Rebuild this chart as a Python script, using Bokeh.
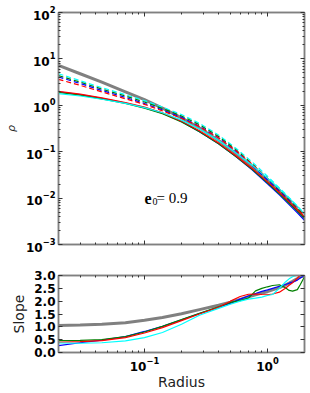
import numpy as np
from bokeh.plotting import figure
from bokeh.models import LogAxis, LinearAxis, FixedTicker, Label, Range1d, NumeralTickFormatter
from bokeh.layouts import column
from bokeh.embed import file_html
from bokeh.resources import INLINE

# ---------------- data ----------------
r_rho = [0.02, 0.03, 0.045, 0.07, 0.1, 0.14, 0.2, 0.28, 0.4, 0.55, 0.75, 1.0, 1.25, 1.5, 1.75, 2.0]

logrho_grey = [0.86, 0.68, 0.50, 0.29, 0.12, -0.06, -0.27, -0.49, -0.76, -1.03, -1.32, -1.62, -1.86, -2.07, -2.26, -2.44]

logrho_blue = [0.29, 0.23, 0.15, 0.05, -0.05, -0.17, -0.35, -0.57, -0.83, -1.10, -1.39, -1.69, -1.93, -2.14, -2.32, -2.48]
logrho_red = [0.30, 0.24, 0.16, 0.06, -0.04, -0.16, -0.34, -0.55, -0.81, -1.08, -1.36, -1.65, -1.88, -2.08, -2.25, -2.40]
logrho_green = [0.28, 0.22, 0.14, 0.04, -0.06, -0.18, -0.36, -0.57, -0.83, -1.10, -1.38, -1.67, -1.91, -2.11, -2.28, -2.43]
logrho_cyan = [0.25, 0.20, 0.13, 0.04, -0.05, -0.16, -0.32, -0.51, -0.76, -1.02, -1.29, -1.57, -1.80, -2.00, -2.18, -2.34]

logrho_cyan_d = [0.68, 0.53, 0.38, 0.23, 0.10, -0.04, -0.20, -0.39, -0.64, -0.92, -1.22, -1.53, -1.78, -1.99, -2.17, -2.34]
logrho_green_d = [0.64, 0.50, 0.35, 0.20, 0.07, -0.07, -0.23, -0.42, -0.67, -0.95, -1.26, -1.58, -1.82, -2.03, -2.21, -2.38]
logrho_blue_d = [0.61, 0.47, 0.32, 0.17, 0.04, -0.10, -0.26, -0.45, -0.70, -0.98, -1.29, -1.61, -1.85, -2.06, -2.25, -2.43]
logrho_red_d = [0.56, 0.43, 0.29, 0.14, 0.02, -0.12, -0.28, -0.46, -0.70, -0.97, -1.27, -1.57, -1.81, -2.01, -2.19, -2.36]

r_slope = [0.02, 0.03, 0.045, 0.07, 0.1, 0.14, 0.2, 0.28, 0.4, 0.5, 0.6, 0.7, 0.8, 0.9,
           1.0, 1.1, 1.25, 1.4, 1.5, 1.6, 1.75, 1.85, 2.0]
slope_grey = [1.05, 1.07, 1.10, 1.16, 1.26, 1.36, 1.51, 1.67, 1.84, 1.96, 2.07, 2.17, 2.25, 2.32,
              2.37, 2.44, 2.53, 2.63, 2.70, 2.77, 2.88, 2.95, 3.0]
slope_blue = [0.27, 0.38, 0.48, 0.62, 0.82, 1.02, 1.27, 1.52, 1.76, 1.92, 2.08, 2.20, 2.30, 2.38,
              2.44, 2.50, 2.58, 2.65, 2.70, 2.74, 2.82, 2.90, 3.0]
slope_red = [0.40, 0.42, 0.46, 0.58, 0.76, 0.97, 1.24, 1.50, 1.76, 2.00, 2.18, 2.27, 2.28, 2.26,
             2.25, 2.28, 2.35, 2.50, 2.62, 2.72, 2.90, 3.02, 3.12]
slope_green = [0.46, 0.47, 0.50, 0.62, 0.80, 1.02, 1.28, 1.53, 1.78, 1.95, 2.02, 2.12, 2.40, 2.50,
               2.56, 2.61, 2.64, 2.52, 2.42, 2.39, 2.45, 2.65, 2.95]
slope_cyan = [0.37, 0.36, 0.38, 0.45, 0.58, 0.78, 1.10, 1.45, 1.72, 1.88, 2.00, 2.08, 2.12, 2.16,
              2.22, 2.26, 2.50, 2.75, 2.87, 2.95, 3.02, 3.10, 3.15]

x_major = [0.1, 1.0]
x_minor = [0.02, 0.03, 0.04, 0.05, 0.06, 0.07, 0.08, 0.09,
           0.2, 0.3, 0.4, 0.5, 0.6, 0.7, 0.8, 0.9, 2.0]
rho_major = [1e-3, 1e-2, 1e-1, 1e0, 1e1, 1e2]
rho_minor = [k * 10.0 ** n for n in range(-3, 2) for k in range(2, 10)]
slope_major = [0.0, 0.5, 1.0, 1.5, 2.0, 2.5, 3.0]

FRAME = "#808080"
TICK = "#333333"
TICKFONT = "DejaVu Sans"

def style_axis(ax, show_labels):
    ax.axis_line_color = FRAME
    ax.axis_line_width = 1.5
    ax.major_tick_line_color = TICK
    ax.minor_tick_line_color = TICK
    ax.major_tick_in = 4
    ax.major_tick_out = 0
    ax.minor_tick_in = 2
    ax.minor_tick_out = 0
    ax.major_label_text_font = TICKFONT
    ax.major_label_text_font_style = "bold"
    ax.major_label_text_color = "black"
    if show_labels:
        ax.major_label_text_font_size = "12px"
        ax.major_label_standoff = 3
    else:
        ax.major_label_text_font_size = "1px"
        ax.major_label_text_alpha = 0.0
        ax.major_label_standoff = 0


# ---------------- top panel ----------------
p1 = figure(width=310, height=254, x_axis_type="log", y_axis_type="log",
            x_range=Range1d(0.02, 2.0), y_range=Range1d(1e-3, 1e2),
            output_backend="svg", toolbar_location=None,
            min_border_left=58, min_border_right=6, min_border_top=12, min_border_bottom=10)
p1.outline_line_color = FRAME
p1.outline_line_width = 1.5
p1.grid.visible = False
p1.background_fill_color = "white"
p1.border_fill_color = "white"

p1.xaxis.ticker = FixedTicker(ticks=x_major, minor_ticks=x_minor)
p1.yaxis.ticker = FixedTicker(ticks=rho_major, minor_ticks=rho_minor)
style_axis(p1.xaxis[0], False)
style_axis(p1.yaxis[0], True)
p1.yaxis.axis_label = "ρ"
p1.yaxis.axis_label_text_font = "DejaVu Sans"
p1.yaxis.axis_label_text_font_style = "italic"
p1.yaxis.axis_label_text_font_size = "11px"
p1.yaxis.axis_label_text_color = "#222222"
p1.yaxis.axis_label_standoff = 5

ax_top = LogAxis(ticker=FixedTicker(ticks=x_major, minor_ticks=x_minor))
style_axis(ax_top, False)
p1.add_layout(ax_top, "above")
ax_right = LogAxis(ticker=FixedTicker(ticks=rho_major, minor_ticks=rho_minor))
style_axis(ax_right, False)
p1.add_layout(ax_right, "right")

def rho(v):
    return np.power(10.0, np.array(v))

p1.line(r_rho, rho(logrho_grey), line_color="#808080", line_width=3)
for vals, col in [(logrho_cyan_d, "cyan"), (logrho_green_d, "green"),
                  (logrho_blue_d, "blue"), (logrho_red_d, "red")]:
    p1.line(r_rho, rho(vals), line_color=col, line_width=1.2, line_dash="5 3")
for vals, col in [(logrho_blue, "blue"), (logrho_green, "green"),
                  (logrho_red, "red"), (logrho_cyan, "cyan")]:
    p1.line(r_rho, rho(vals), line_color=col, line_width=1.2)

lab_kw = dict(x=0.1, y=0.01, text_font="Liberation Serif", text_color="black",
              text_baseline="alphabetic")
p1.add_layout(Label(text="e", text_font_style="bold", text_font_size="16px", **lab_kw))
p1.add_layout(Label(text="0", x_offset=8, y_offset=-3, text_font_size="10px", **lab_kw))
p1.add_layout(Label(text=" = 0.9", x_offset=12, text_font_size="15px", **lab_kw))

# ---------------- bottom panel ----------------
p2 = figure(width=310, height=139, x_axis_type="log",
            x_range=Range1d(0.02, 2.0), y_range=Range1d(0.0, 3.0),
            output_backend="svg", toolbar_location=None,
            min_border_left=58, min_border_right=6, min_border_top=21, min_border_bottom=41)
p2.outline_line_color = FRAME
p2.outline_line_width = 1.5
p2.grid.visible = False

p2.xaxis.ticker = FixedTicker(ticks=x_major, minor_ticks=x_minor)
p2.yaxis.ticker = FixedTicker(ticks=slope_major, minor_ticks=[])
p2.yaxis.formatter = NumeralTickFormatter(format="0.0")
style_axis(p2.xaxis[0], True)
style_axis(p2.yaxis[0], True)
p2.xaxis.major_label_standoff = 4
p2.xaxis.axis_label = "Radius"
p2.yaxis.axis_label = "Slope"
for ax in (p2.xaxis[0], p2.yaxis[0]):
    ax.axis_label_text_font = "DejaVu Sans"
    ax.axis_label_text_font_style = "normal"
    ax.axis_label_text_font_size = "14px"
    ax.axis_label_text_color = "#222222"
p2.xaxis.axis_label_standoff = 0
p2.yaxis.axis_label_standoff = 4

ax_top2 = LogAxis(ticker=FixedTicker(ticks=x_major, minor_ticks=x_minor))
style_axis(ax_top2, False)
p2.add_layout(ax_top2, "above")
ax_right2 = LinearAxis(ticker=FixedTicker(ticks=slope_major, minor_ticks=[]))
style_axis(ax_right2, False)
p2.add_layout(ax_right2, "right")

p2.line(r_slope, slope_grey, line_color="#808080", line_width=3)
for vals, col in [(slope_blue, "blue"), (slope_green, "green"),
                  (slope_red, "red"), (slope_cyan, "cyan")]:
    p2.line(r_slope, vals, line_color=col, line_width=1.2)

layout = column(p1, p2, spacing=0)
open("out.html", "w").write(file_html(layout, INLINE))
